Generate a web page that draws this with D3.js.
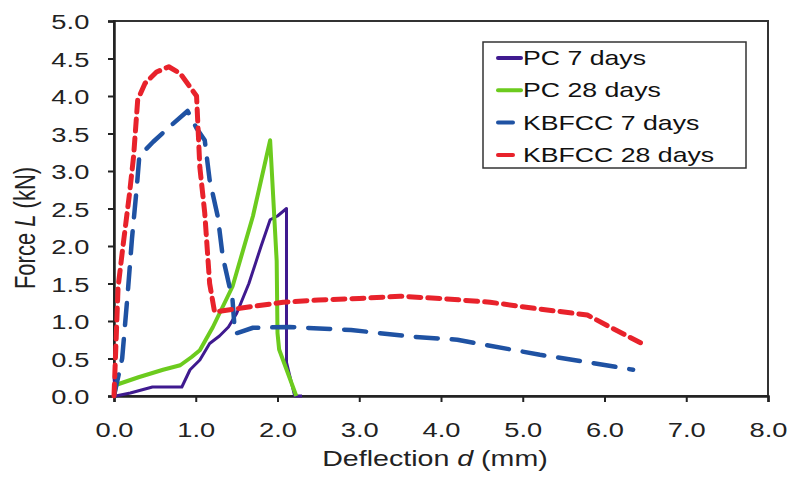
<!DOCTYPE html>
<html>
<head>
<meta charset="utf-8">
<script src="https://cdn.jsdelivr.net/npm/d3@7"></script>
<style>
  body { margin: 0; background: #fff; }
  svg { font-family: "Liberation Sans", Arial, sans-serif; }
</style>
</head>
<body>
<svg id="chart" width="791" height="480"></svg>
<script>
// deflection d (mm), force L (kN)
const pc7 = [[0, 0.25], [0.02, 0], [0.2, 0.04], [0.47, 0.12], [0.83, 0.12], [0.93, 0.35], [1.05, 0.48], [1.17, 0.7],
  [1.29, 0.8], [1.4, 0.92], [1.5, 1.1], [1.65, 1.5], [1.8, 2.0], [1.91, 2.35], [2.0, 2.4], [2.11, 2.5],
  [2.11, 0.45], [2.21, 0], [2.3, 0]];
const pc28 = [[0, 0], [0.03, 0.15], [0.3, 0.25], [0.6, 0.35], [0.81, 0.41], [0.95, 0.52], [1.05, 0.61],
  [1.21, 0.92], [1.45, 1.46], [1.7, 2.4], [1.91, 3.41], [1.99, 1.8], [2.0, 0.84], [2.02, 0.62], [2.23, 0]];
const kb7 = [[0, 0], [0.1, 0.5], [0.17, 1.4], [0.22, 2.1], [0.28, 2.8], [0.31, 3.2], [0.48, 3.39], [0.68, 3.59],
  [0.9, 3.8], [1.01, 3.57], [1.11, 3.41], [1.17, 2.88], [1.27, 2.39], [1.33, 1.86], [1.45, 1.28], [1.48, 0.83],
  [1.7, 0.91], [2.15, 0.92], [2.9, 0.88], [3.66, 0.79], [4.2, 0.75], [5.21, 0.55], [5.8, 0.45], [6.35, 0.35]];
const kb28 = [[0, 0], [0.05, 1.45], [0.11, 2.0], [0.19, 2.7], [0.24, 3.2], [0.29, 3.95], [0.38, 4.17], [0.52, 4.32],
  [0.67, 4.39], [0.81, 4.3], [1.01, 4.0], [1.05, 3.05], [1.11, 2.44], [1.17, 1.5], [1.23, 1.12], [1.54, 1.17],
  [2.07, 1.25], [2.5, 1.28], [3.0, 1.3], [3.5, 1.33], [4.0, 1.3], [4.6, 1.25], [5.2, 1.16], [5.79, 1.08],
  [6.1, 0.9], [6.44, 0.71]];

const xTicks = [0, 1, 2, 3, 4, 5, 6, 7, 8];
const yTicks = [0, 0.5, 1, 1.5, 2, 2.5, 3, 3.5, 4, 4.5, 5];

const series = [
  { label: 'PC 7 days', data: pc7, color: '#3f1a8f', width: 3, dash: null },
  { label: 'PC 28 days', data: pc28, color: '#6ccb1e', width: 4, dash: null },
  { label: 'KBFCC 7 days', data: kb7, color: '#1f52a3', width: 4.5, dash: '22,14' },
  { label: 'KBFCC 28 days', data: kb28, color: '#e8222b', width: 5, dash: '12,7' }
];

const stretch = 1.3;
const plotLeft = 114, plotRight = 768, plotTop = 21, plotBottom = 396;

const svg = d3.select('#chart');

const x = d3.scaleLinear().domain([0, 8]).range([plotLeft, plotRight]);
const y = d3.scaleLinear().domain([0, 5]).range([plotBottom, plotTop]);

// frame
svg.append('rect')
  .attr('x', plotLeft).attr('y', plotTop)
  .attr('width', plotRight - plotLeft).attr('height', plotBottom - plotTop)
  .attr('fill', 'none').attr('stroke', '#333').attr('stroke-width', 2);

const xAxis = svg.append('g')
  .attr('transform', 'translate(0,' + plotBottom + ')')
  .call(d3.axisBottom(x).tickValues(xTicks).tickFormat(d3.format('.1f')).tickSizeOuter(0).tickSize(6));

const yAxis = svg.append('g')
  .attr('transform', 'translate(' + plotLeft + ',0)')
  .call(d3.axisLeft(y).tickValues(yTicks).tickFormat(d3.format('.1f')).tickSizeOuter(0).tickSize(6));

[xAxis, yAxis].forEach(function (g) {
  g.select('.domain').attr('stroke', '#222').attr('stroke-width', 2.5);
  g.selectAll('.tick line').attr('stroke', '#222').attr('stroke-width', 2);
  g.selectAll('.tick text')
    .attr('fill', '#222')
    .style('font-size', '21px')
    .attr('transform', 'scale(' + stretch + ',1)');
});
xAxis.selectAll('.tick text').attr('y', 26);
yAxis.selectAll('.tick text').attr('x', -19).attr('dy', '0.36em');

// axis titles
const xTitle = svg.append('text')
  .attr('transform', 'translate(' + ((plotLeft + plotRight) / 2 - 6) + ',466) scale(' + stretch + ',1)')
  .attr('text-anchor', 'middle')
  .attr('fill', '#222')
  .style('font-size', '22px');
xTitle.append('tspan').text('Deflection ');
xTitle.append('tspan').attr('font-style', 'italic').text('d');
xTitle.append('tspan').text(' (mm)');

const yTitle = svg.append('text')
  .attr('transform', 'translate(35,228) scale(' + stretch + ',1) rotate(-90)')
  .attr('text-anchor', 'middle')
  .attr('fill', '#222')
  .style('font-size', '22px');
yTitle.append('tspan').text('Force ');
yTitle.append('tspan').attr('font-style', 'italic').text('L');
yTitle.append('tspan').text(' (kN)');

// series lines
const line = d3.line()
  .x(function (d) { return x(d[0]); })
  .y(function (d) { return y(d[1]); });

svg.selectAll('.series')
  .data(series)
  .enter()
  .append('path')
  .attr('class', 'series')
  .attr('d', function (d) { return line(d.data); })
  .attr('fill', 'none')
  .attr('stroke', function (d) { return d.color; })
  .attr('stroke-width', function (d) { return d.width; })
  .attr('stroke-dasharray', function (d) { return d.dash; })
  .attr('stroke-linejoin', 'round')
  .attr('stroke-linecap', function (d) { return d.dash ? 'round' : 'butt'; });

// legend
const legend = svg.append('g');
legend.append('rect')
  .attr('x', 483).attr('y', 42)
  .attr('width', 263).attr('height', 126)
  .attr('fill', '#fff').attr('stroke', '#333').attr('stroke-width', 1.5);

const items = legend.selectAll('.legend')
  .data(series)
  .enter()
  .append('g')
  .attr('class', 'legend')
  .attr('transform', function (d, i) { return 'translate(0,' + (i * 32.3) + ')'; });

items.append('line')
  .attr('x1', 498).attr('x2', function (d) { return d.dash ? 513 : 521; })
  .attr('y1', 58).attr('y2', 58)
  .attr('stroke', function (d) { return d.color; })
  .attr('stroke-width', 4)
  .attr('stroke-linecap', 'round');

items.append('text')
  .attr('transform', 'translate(523,65) scale(1.27,1)')
  .attr('fill', '#111')
  .style('font-size', '21px')
  .text(function (d) { return d.label; });
</script>
</body>
</html>
